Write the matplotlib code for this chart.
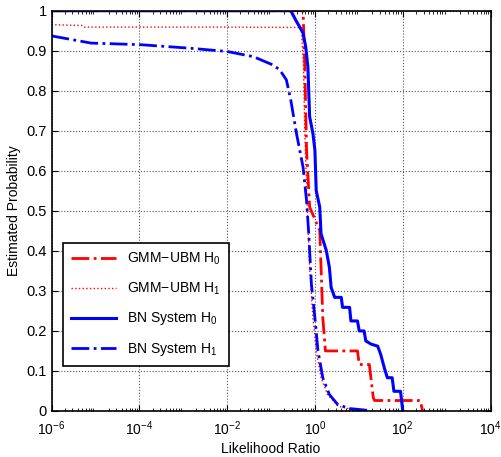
import numpy as np
import matplotlib
matplotlib.use("Agg")
import matplotlib.pyplot as plt
from matplotlib.ticker import LogLocator, NullFormatter, FixedLocator, FuncFormatter

plt.rcParams['font.family'] = ['Liberation Sans', 'DejaVu Sans']
plt.rcParams['mathtext.fontset'] = 'custom'
plt.rcParams['mathtext.rm'] = 'Liberation Sans'
plt.rcParams['mathtext.it'] = 'Liberation Sans:italic'

# ---- data (x given as log10 of likelihood ratio) ----
gmm_h0_log_lr = [-6, -0.27, -0.23, -0.19, -0.12, 0.11, 0.14, 0.18, 0.24, 0.97, 1.01, 1.24, 1.33, 1.36, 2.40, 2.45]
gmm_h0_prob   = [1.0, 1.0, 0.86, 0.651, 0.509, 0.45, 0.358, 0.232, 0.149, 0.149, 0.115, 0.115, 0.032, 0.025, 0.025, 0.0]

gmm_h1_log_lr = [-6, -5.3, -5.25, -2.0, -0.33, -0.31, -0.26, -0.23, -0.18, -0.12, -0.045, 0.03, 0.14, 0.29, 0.52, 0.94]
gmm_h1_prob   = [0.965, 0.963, 0.959, 0.959, 0.958, 0.957, 0.86, 0.693, 0.525, 0.358, 0.232, 0.149, 0.082, 0.040, 0.011, 0.0]

bn_h0_log_lr = [-6, -0.55, -0.42, -0.35, -0.27, -0.21, -0.16, -0.12, -0.045, 0.0, 0.03, 0.11, 0.14, 0.26, 0.33,
                0.37, 0.45, 0.60, 0.63, 0.79, 0.82, 0.97, 1.01, 1.12, 1.16, 1.28, 1.43, 1.50, 1.58, 1.65,
                1.76, 1.80, 1.95, 2.0]
bn_h0_prob   = [1.0, 1.0, 0.973, 0.96, 0.944, 0.91, 0.86, 0.735, 0.693, 0.651, 0.55, 0.509, 0.442, 0.40, 0.358,
                0.308, 0.283, 0.283, 0.258, 0.258, 0.224, 0.224, 0.199, 0.199, 0.174, 0.166, 0.161, 0.14, 0.107, 0.082,
                0.082, 0.048, 0.048, 0.0]

bn_h1_log_lr = [-6, -5.1, -3.97, -2.83, -2.0, -1.4, -0.95, -0.8, -0.65, -0.55, -0.42, -0.27, -0.19, -0.14,
                -0.08, 0.0, 0.07, 0.18, 0.33, 0.52, 0.78, 1.24]
bn_h1_prob   = [0.937, 0.919, 0.915, 0.906, 0.898, 0.885, 0.864, 0.852, 0.827, 0.777, 0.693, 0.609, 0.525, 0.442,
                0.316, 0.232, 0.149, 0.082, 0.040, 0.015, 0.005, 0.0]

labels = ['GMM\u2212UBM H$_0$', 'GMM\u2212UBM H$_1$', 'BN System H$_0$', 'BN System H$_1$']
x_ticks = [1e-6, 1e-4, 1e-2, 1e0, 1e2, 1e4]
y_ticks = [0, 0.1, 0.2, 0.3, 0.4, 0.5, 0.6, 0.7, 0.8, 0.9, 1.0]

fig = plt.figure(figsize=(5.01, 4.57), dpi=100)
ax = fig.add_axes([51.5 / 501, (457 - 410.5) / 457, 439 / 501, 399.8 / 457])

ax.plot(np.power(10.0, gmm_h0_log_lr), gmm_h0_prob, color='red', ls='-.', lw=2, label=labels[0])
ax.plot(np.power(10.0, gmm_h1_log_lr), gmm_h1_prob, color='red', ls=':', lw=1, label=labels[1])
ax.plot(np.power(10.0, bn_h0_log_lr), bn_h0_prob, color='blue', ls='-', lw=2.2, label=labels[2])
ax.plot(np.power(10.0, bn_h1_log_lr), bn_h1_prob, color='blue', ls='-.', lw=2, label=labels[3])

ax.set_xscale('log')
ax.set_xlim(1e-6, 1e4)
ax.set_ylim(0, 1)
ax.xaxis.set_major_locator(FixedLocator(x_ticks))
ax.xaxis.set_minor_locator(LogLocator(base=10, subs=np.arange(2, 10), numticks=100))
ax.xaxis.set_minor_formatter(NullFormatter())
ax.set_yticks(y_ticks)
ax.yaxis.set_major_formatter(FuncFormatter(lambda v, p: ('%g' % v)))

ax.tick_params(which='both', direction='in', top=True, right=True)
ax.tick_params(axis='x', labelsize=10, pad=6.5)
ax.tick_params(axis='y', labelsize=10.5)
ax.tick_params(which='major', length=4)
ax.tick_params(which='minor', length=2)
ax.grid(True, which='major', ls=':', color='0.35', lw=0.8)
for s in ax.spines.values():
    s.set_linewidth(1.2)

ax.set_xlabel('Likelihood Ratio', fontsize=10, labelpad=3)
ax.set_ylabel('Estimated Probability', fontsize=10, labelpad=4)

leg = ax.legend(loc='lower left', bbox_to_anchor=(0.026, 0.112), borderaxespad=0, fontsize=10,
                handlelength=3.3, labelspacing=0.98, borderpad=0.55, fancybox=False, framealpha=1,
                edgecolor='black')
leg.get_frame().set_linewidth(1.2)

fig.savefig('out.png', dpi=100)
